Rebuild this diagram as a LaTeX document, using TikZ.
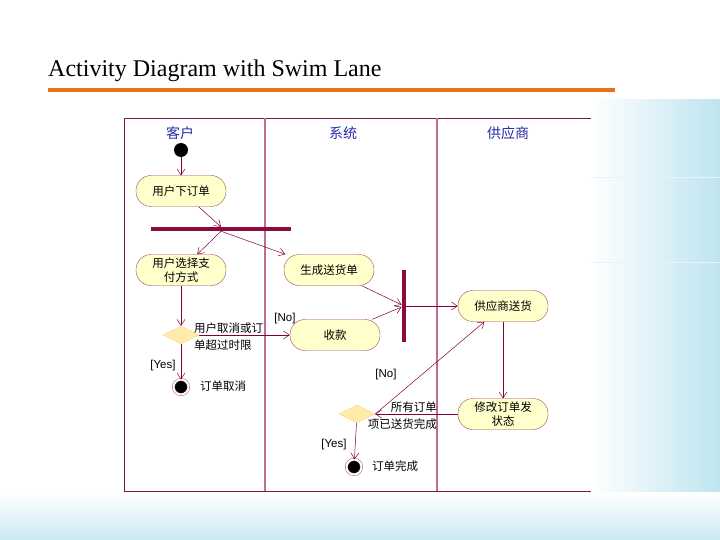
\documentclass[tikz,border=0pt]{standalone}
\usepackage{fontspec}
\setmainfont{Liberation Serif}
\setsansfont{Liberation Sans}
\newfontfamily\cjk{Noto Sans CJK SC}
\usetikzlibrary{arrows.meta,shapes.geometric,positioning}
\definecolor{actline}{RGB}{160,70,90}
\definecolor{actfill}{RGB}{255,255,204}
\definecolor{decfill}{RGB}{255,236,170}
\definecolor{flowc}{RGB}{128,0,64}
\definecolor{barc}{RGB}{140,10,60}
\definecolor{lanec}{RGB}{190,110,145}
\definecolor{framec}{RGB}{130,20,70}
\definecolor{headc}{RGB}{40,40,170}
\definecolor{rulec}{RGB}{236,112,24}
\definecolor{skyc}{RGB}{190,228,240}
\tikzset{
  action/.style={
    shape = rectangle,
    rounded corners = 15pt,
    draw = actline,
    fill = actfill,
    minimum width = 90pt,
    minimum height = 31pt,
    inner sep = 0pt,
    align = center,
    font = \cjk\fontsize{11.5}{14.5}\selectfont
  },
  decision/.style={
    shape = diamond,
    aspect = 2,
    draw = decfill!80!orange,
    fill = decfill,
    minimum width = 36pt,
    minimum height = 18pt,
    inner sep = 0pt
  },
  start/.style={
    shape = circle,
    fill = black,
    minimum size = 14pt,
    inner sep = 0pt
  },
  final/.style={
    shape = circle,
    fill = black,
    draw = actline,
    double = white,
    double distance = 2pt,
    minimum size = 15pt,
    inner sep = 0pt
  },
  bar/.style={
    shape = rectangle,
    fill = barc,
    inner sep = 0pt
  },
  flow/.style={
    draw = flowc,
    line width = 0.5pt,
    -{Straight Barb[length=6pt,width=8pt]}
  },
  guard/.style={
    font = \sffamily\fontsize{11.5}{13}\selectfont,
    inner sep = 1pt
  },
  note/.style={
    font = \cjk\fontsize{11.5}{17}\selectfont,
    inner sep = 0pt
  },
  lanehead/.style={
    font = \cjk\fontsize{14}{16}\selectfont,
    text = headc
  }
}

\begin{document}
\begin{tikzpicture}[x=1pt,y=-1pt]
  \useasboundingbox (0,0) rectangle (720,540);
  % slide background
  \fill[left color=white, right color=skyc] (591,100) rectangle (720,540);
  \fill[top color=white, bottom color=skyc!80] (0,492) rectangle (720,540);
  \fill[white] (124,118) rectangle (591,491);
  \draw[white!60!skyc, line width=1pt] (591,178) -- (720,178);
  \draw[white!60!skyc, line width=1pt] (591,262) -- (720,262);
  % title
  \node[anchor=base west, inner sep=0pt, font=\fontsize{24}{27}\selectfont] (title) at (48,77) {Activity Diagram with Swim Lane};
  \draw[rulec, line width=4pt] (48,90) -- (615,90);
  % swim lanes
  \draw[framec, line width=0.8pt] (591,118) -- (124,118) -- (124,491) -- (591,491);
  \foreach \x in {265,437}{
    \draw[lanec, line width=1.4pt] (\x,118) -- (\x,491);}
  \node[lanehead] (laneA) at (180,133) {客户};
  \node[lanehead] (laneB) at (343,133) {系统};
  \node[lanehead] (laneC) at (508,133) {供应商};
  % activities
  \node[start] (init) at (181,150) {};
  \node[action] (order) at (181,191) {用户下订单};
  \node[bar, minimum width=140pt, minimum height=4pt] (forkA) at (221,229) {};
  \node[action] (pay) at (181,270) {用户选择支\\付方式};
  \node[action] (ship) at (329,270) {生成送货单};
  \node[action] (collect) at (335,335) {收款};
  \node[bar, minimum width=4.5pt, minimum height=72pt] (joinB) at (404,306) {};
  \node[decision] (decA) at (181,335) {};
  \node[final] (endA) at (181,387) {};
  \node[action] (supply) at (503,306) {供应商送货};
  \node[action] (modify) at (503,414) {修改订单发\\状态};
  \node[decision] (decB) at (357,414) {};
  \node[final] (endB) at (354,467) {};
  % texts
  \node[note, anchor=west, align=left] (decAtxt) at (194,337) {用户取消或订\\单超过时限};
  \node[note, anchor=east, align=right] (decBtxt) at (437,416) {所有订单\\项已送货完成};
  \node[note, anchor=west] (endAtxt) at (200,386) {订单取消};
  \node[note, anchor=west] (endBtxt) at (372,466) {订单完成};
  \node[guard] (noA) at (285,319) {[No]};
  \node[guard] (yesA) at (163,366) {[Yes]};
  \node[guard] (noB) at (386,375) {[No]};
  \node[guard] (yesB) at (334,445) {[Yes]};
  % flows
  \draw[flow] (init) -- (order);
  \draw[flow] (order) -- (forkA.north);
  \draw[flow] (forkA.south) -- (pay);
  \draw[flow] (forkA.south) -- (ship);
  \draw[flow] (pay) -- (decA);
  \draw[flow] (decA.east) -- (collect.west);
  \draw[flow] (decA) -- (endA);
  \draw[flow] (ship) -- (joinB);
  \draw[flow] (collect) -- (joinB);
  \draw[flow] (joinB) -- (supply);
  \draw[flow] (supply) -- (modify);
  \draw[flow] (modify) -- (decB);
  \draw[flow] (decB.east) -- (supply);
  \draw[flow] (decB) -- (endB);
\end{tikzpicture}
\end{document}
